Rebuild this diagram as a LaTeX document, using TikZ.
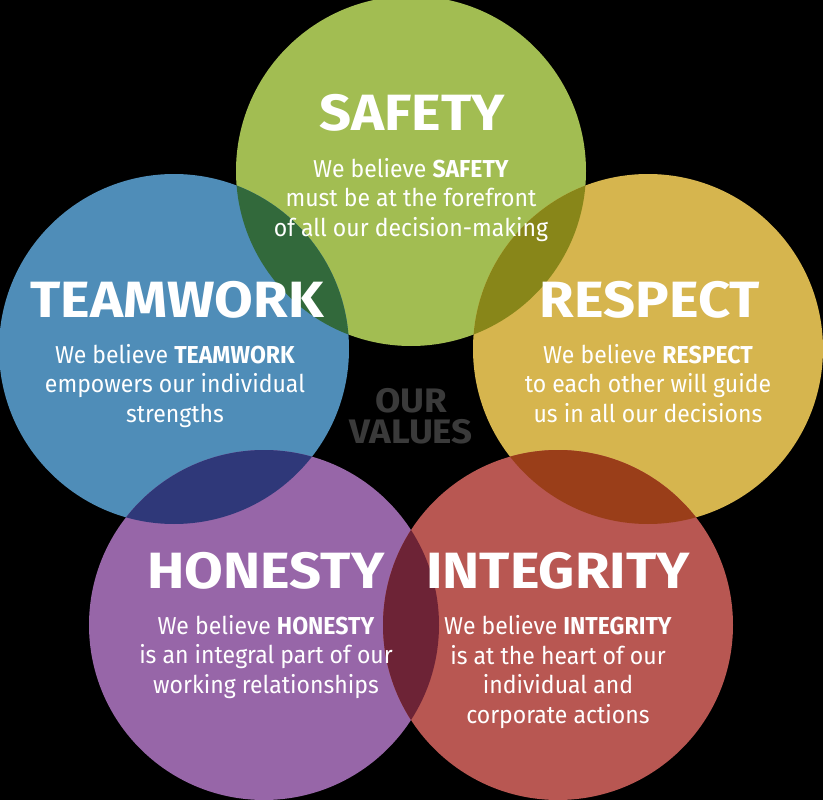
\documentclass[tikz,border=0pt]{standalone}
\usepackage{fontspec}
\setmainfont{Fira Sans}
\definecolor{cG}{HTML}{A2BD52}
\definecolor{cB}{HTML}{4F8DB8}
\definecolor{cY}{HTML}{D6B54E}
\definecolor{cP}{HTML}{9766A8}
\definecolor{cR}{HTML}{B85752}
\definecolor{cGB}{HTML}{32693B}
\definecolor{cGY}{HTML}{888619}
\definecolor{cBP}{HTML}{2F3879}
\definecolor{cYR}{HTML}{9A3E19}
\definecolor{cPR}{HTML}{6D2336}
\definecolor{cOV}{HTML}{3A3A3A}
\begin{document}
\begin{tikzpicture}[x=1pt,y=-1pt,
  title/.style={text=white,font=\bfseries\fontsize{51}{51}\selectfont,anchor=base,inner sep=0pt,xscale=1.1},
  body/.style={text=white,font=\fontsize{24.5}{29.5}\selectfont,align=center,anchor=base,inner sep=0pt,xscale=0.94},
  ourval/.style={text=cOV,font=\bfseries\fontsize{34}{31}\selectfont,align=center,anchor=base,inner sep=0pt,xscale=1.08},
]
\useasboundingbox (0,0) rectangle (823,800);
\fill[black] (0,0) rectangle (823,800);
\coordinate (cS) at (411,171);
\coordinate (cT) at (174,349);
\coordinate (cRe) at (648,349);
\coordinate (cH) at (264,625);
\coordinate (cI) at (558,625);
\begin{scope}
\clip (0,0) rectangle (823,800);
\fill[cG] (cS) circle (175pt);
\fill[cB] (cT) circle (175pt);
\fill[cY] (cRe) circle (175pt);
\fill[cP] (cH) circle (175pt);
\fill[cR] (cI) circle (175pt);
\begin{scope}\clip (cS) circle (175pt); \fill[cGB] (cT) circle (175pt);\end{scope}
\begin{scope}\clip (cS) circle (175pt); \fill[cGY] (cRe) circle (175pt);\end{scope}
\begin{scope}\clip (cT) circle (175pt); \fill[cBP] (cH) circle (175pt);\end{scope}
\begin{scope}\clip (cRe) circle (175pt); \fill[cYR] (cI) circle (175pt);\end{scope}
\begin{scope}\clip (cH) circle (175pt); \fill[cPR] (cI) circle (175pt);\end{scope}
\end{scope}
\node[title] (tS) at (412,131) {SAFETY};
\node[body] (bS) at (411,236) {We believe \textbf{SAFETY}\\must be at the forefront\\of all our decision-making};
\node[title] (tT) at (177,317) {TEAMWORK};
\node[body] (bT) at (175,422) {We believe \textbf{TEAMWORK}\\empowers our individual\\strengths};
\node[title] (tR) at (650,317) {RESPECT};
\node[body] (bR) at (648,422) {We believe \textbf{RESPECT}\\to each other will guide\\us in all our decisions};
\node[title] (tH) at (266,588) {HONESTY};
\node[body] (bH) at (266,693) {We believe \textbf{HONESTY}\\is an integral part of our\\working relationships};
\node[title] (tI) at (558,588) {INTEGRITY};
\node[body] (bI) at (558,723) {We believe \textbf{INTEGRITY}\\is at the heart of our\\individual and\\corporate actions};
\node[ourval] (ov) at (411,443) {OUR\\VALUES};
\end{tikzpicture}
\end{document}
